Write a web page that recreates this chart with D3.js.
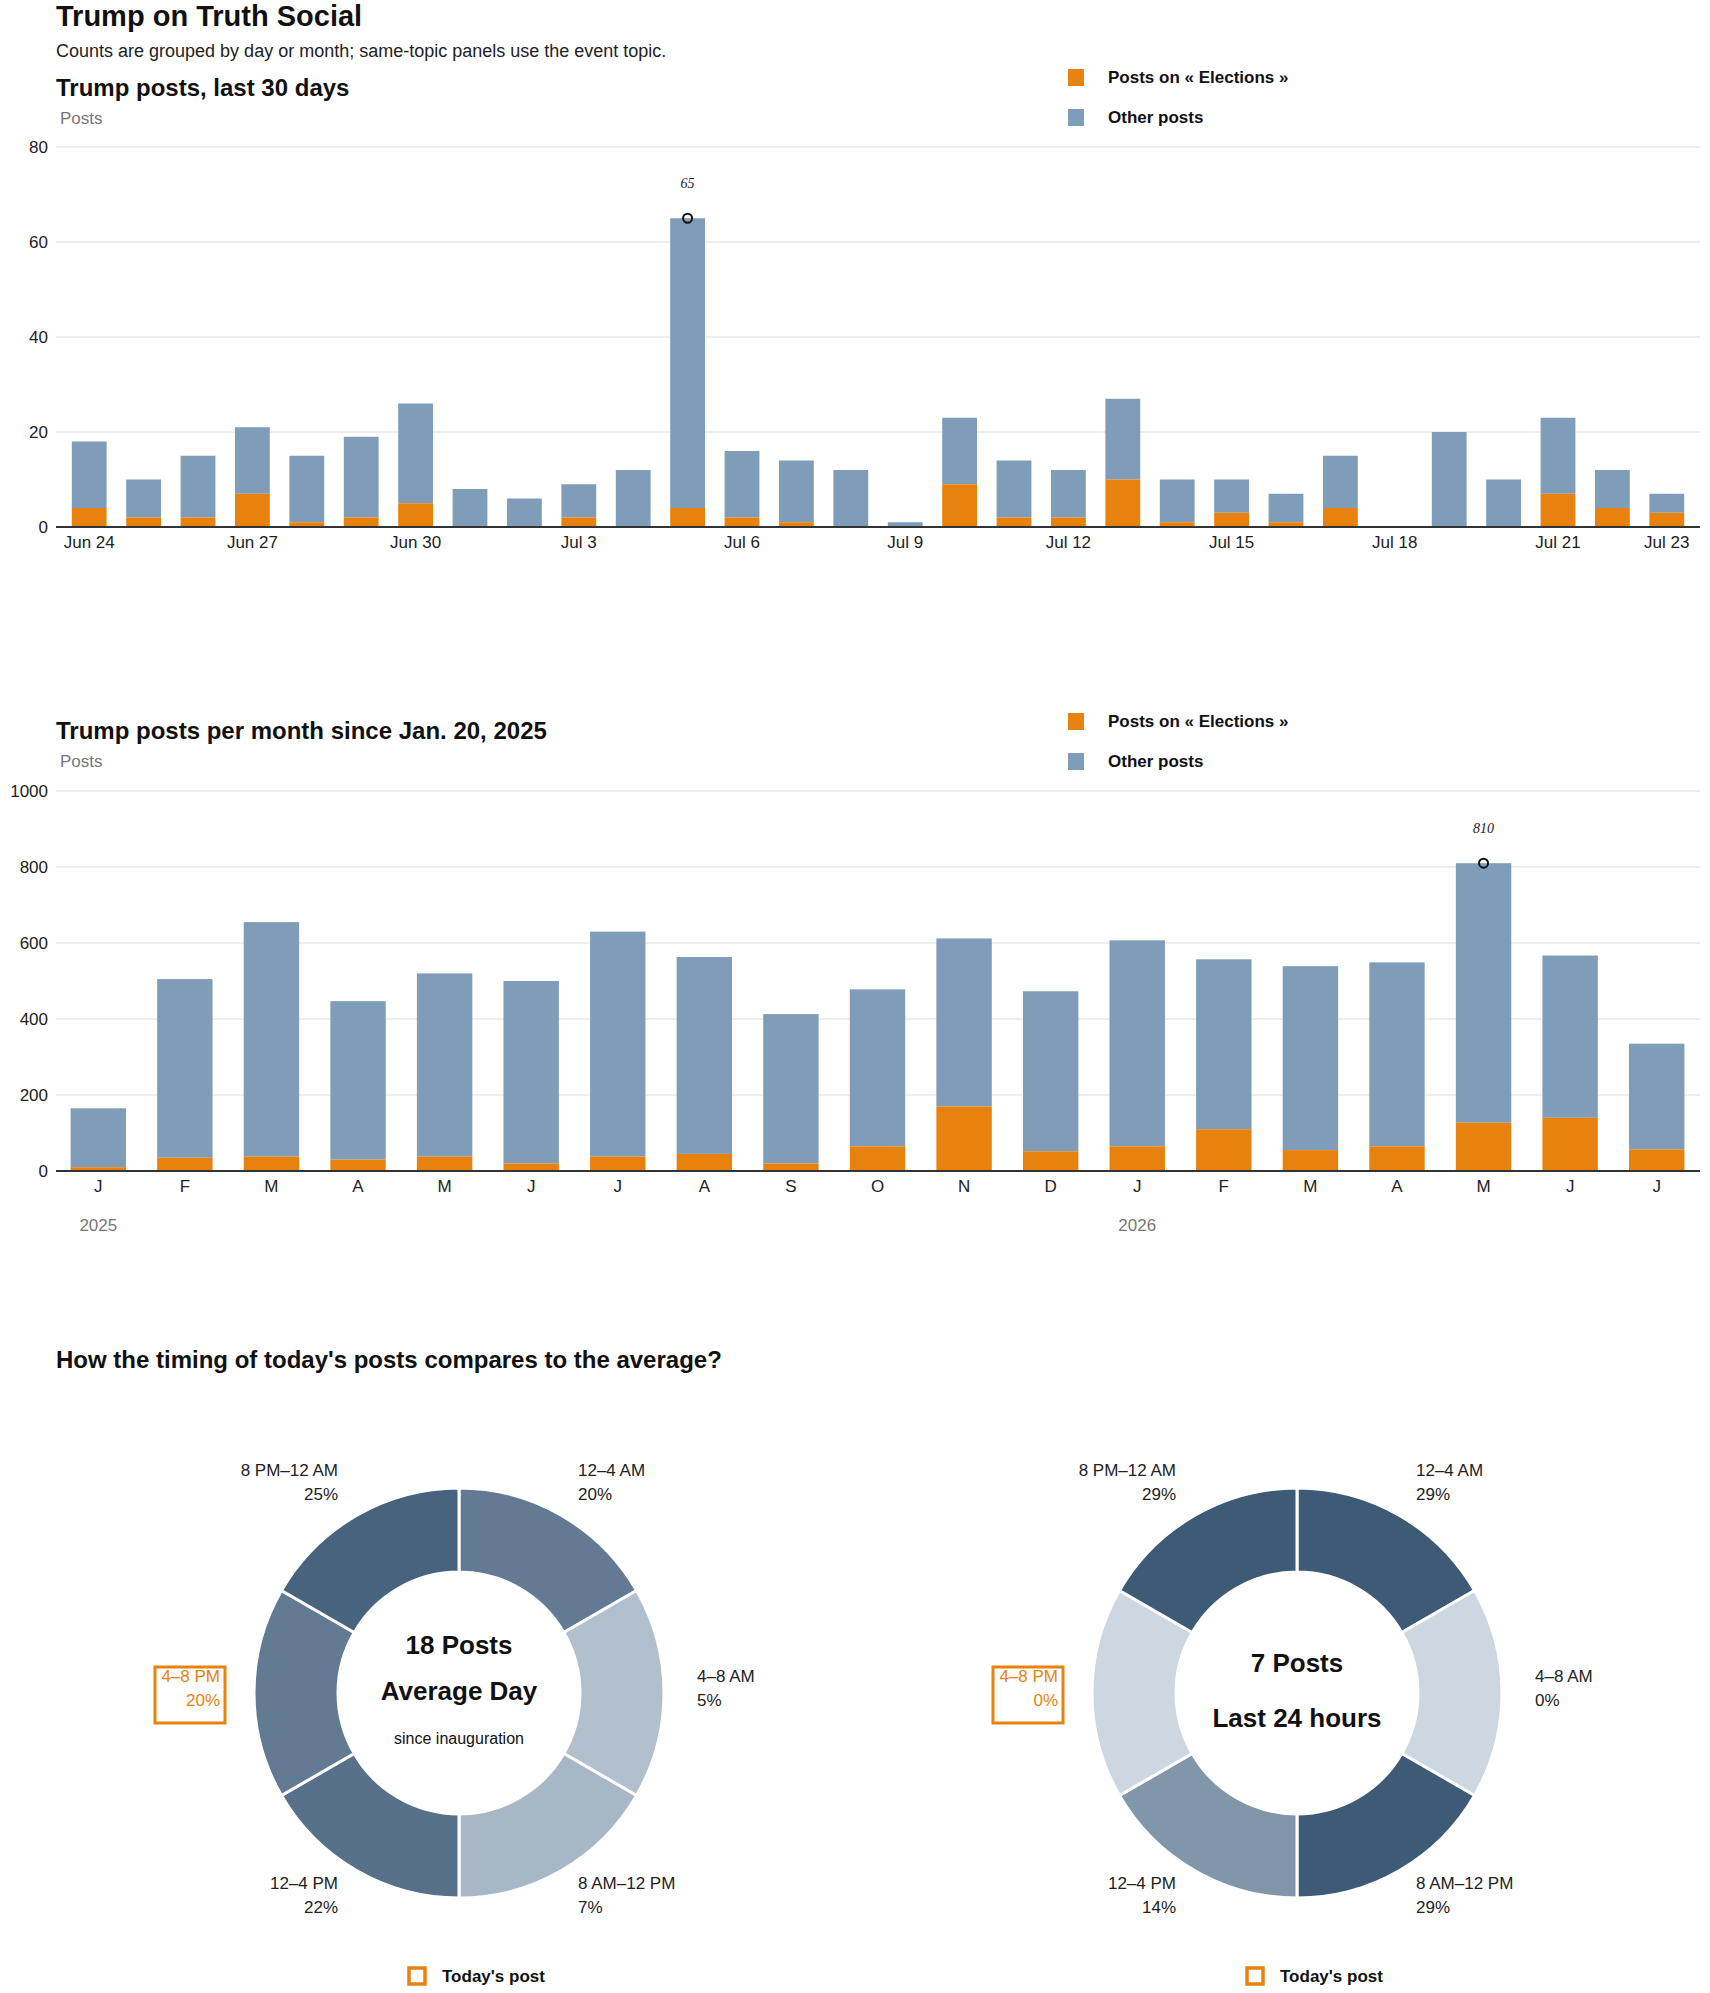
<!DOCTYPE html>
<html>
<head>
<meta charset="utf-8">
<script src="https://cdn.jsdelivr.net/npm/d3@7"></script>
<style>
  body { margin: 0; background: #fff; font-family: "Liberation Sans", Arial, sans-serif; }
  .h { font-weight: 900; fill: #111; }
</style>
</head>
<body>
<svg id="chart" width="1710" height="1993"></svg>
<script>
// daily data, last 30 days
var days = ['Jun 24','Jun 25','Jun 26','Jun 27','Jun 28','Jun 29','Jun 30','Jul 1','Jul 2','Jul 3','Jul 4','Jul 5','Jul 6','Jul 7','Jul 8','Jul 9','Jul 10','Jul 11','Jul 12','Jul 13','Jul 14','Jul 15','Jul 16','Jul 17','Jul 18','Jul 19','Jul 20','Jul 21','Jul 22','Jul 23'];
var dayTotal = [18,10,15,21,15,19,26,8,6,9,12,65,16,14,12,1,23,14,12,27,10,10,7,15,0,20,10,23,12,7];
var dayElect = [4,2,2,7,1,2,5,0,0,2,0,4,2,1,0,0,9,2,2,10,1,3,1,4,0,0,0,7,4,3];
var dayTicks = ['Jun 24','Jun 27','Jun 30','Jul 3','Jul 6','Jul 9','Jul 12','Jul 15','Jul 18','Jul 21','Jul 23'];

// monthly data since Jan 2025
var months = ['2025-01','2025-02','2025-03','2025-04','2025-05','2025-06','2025-07','2025-08','2025-09','2025-10','2025-11','2025-12','2026-01','2026-02','2026-03','2026-04','2026-05','2026-06','2026-07'];
var monthLetters = ['J','F','M','A','M','J','J','A','S','O','N','D','J','F','M','A','M','J','J'];
var monthTotal = [165,505,655,447,520,500,630,563,413,478,612,473,607,557,539,549,810,567,335];
var monthElect = [10,35,38,30,38,20,38,45,20,65,170,52,65,110,55,65,127,140,57];

// time of day shares
var slots = ['12–4 AM','4–8 AM','8 AM–12 PM','12–4 PM','4–8 PM','8 PM–12 AM'];
var avgShare = [20,5,7,22,20,25];
var todayShare = [29,0,29,14,0,29];

var ORANGE = '#e8820e', BLUE = '#7f9db9';
var svg = d3.select('#chart');

svg.append('text').attr('class','h').attr('x',56).attr('y',26).attr('font-size',29).text('Trump on Truth Social');
svg.append('text').attr('x',56).attr('y',57).attr('font-size',18).attr('fill','#222')
  .text('Counts are grouped by day or month; same-topic panels use the event topic.');

function legend(y) {
  [['Posts on « Elections »',ORANGE],['Other posts',BLUE]].forEach(function(d,i){
    svg.append('rect').attr('x',1068).attr('y',y+i*40-8).attr('width',16).attr('height',17).attr('fill',d[1]);
    svg.append('text').attr('x',1108).attr('y',y+i*40+6).attr('font-size',17).attr('font-weight',900).attr('fill','#111').text(d[0]);
  });
}

function barChart(opt) {
  var g = svg.append('g');
  g.append('text').attr('class','h').attr('x',56).attr('y',opt.titleY).attr('font-size',24).text(opt.title);
  g.append('text').attr('x',60).attr('y',opt.titleY+28).attr('font-size',17).attr('fill','#777').text('Posts');
  legend(opt.legendY);
  var y = d3.scaleLinear().domain([0,opt.max]).range([opt.y0,opt.y1]);
  var x = d3.scaleBand().domain(opt.keys).range(opt.xr).paddingInner(0.36).paddingOuter(0.18);
  y.ticks(opt.nt).forEach(function(t){
    g.append('line').attr('x1',56).attr('x2',1700).attr('y1',y(t)).attr('y2',y(t)).attr('stroke','#ddd');
    g.append('text').attr('x',48).attr('y',y(t)+6).attr('text-anchor','end').attr('font-size',17).attr('fill','#222').text(t);
  });
  g.selectAll('.o').data(opt.keys).enter().append('rect')
    .attr('x',function(d){return x(d);}).attr('width',x.bandwidth())
    .attr('y',function(d,i){return y(opt.total[i]);})
    .attr('height',function(d,i){return y(opt.elect[i])-y(opt.total[i]);})
    .attr('fill',BLUE);
  g.selectAll('.e').data(opt.keys).enter().append('rect')
    .attr('x',function(d){return x(d);}).attr('width',x.bandwidth())
    .attr('y',function(d,i){return y(opt.elect[i]);})
    .attr('height',function(d,i){return y(0)-y(opt.elect[i]);})
    .attr('fill',ORANGE);
  g.append('line').attr('x1',56).attr('x2',1700).attr('y1',y(0)).attr('y2',y(0)).attr('stroke','#333').attr('stroke-width',2);
  var mi = d3.maxIndex(opt.total), cx = x(opt.keys[mi]) + x.bandwidth()/2;
  g.append('circle').attr('cx',cx).attr('cy',y(opt.total[mi])).attr('r',4.5).attr('fill','none').attr('stroke','#111').attr('stroke-width',2);
  g.append('text').attr('x',cx).attr('y',y(opt.total[mi])-30).attr('text-anchor','middle').attr('font-size',14)
    .attr('font-style','italic').attr('font-family','Liberation Serif, serif').attr('fill','#222').text(opt.total[mi]);
  opt.labels(g, x);
}

barChart({title:'Trump posts, last 30 days', titleY:96, legendY:77, max:80, nt:4, y0:527, y1:147,
  keys:days, total:dayTotal, elect:dayElect, xr:[62,1694],
  labels:function(g,x){
    dayTicks.forEach(function(d){
      g.append('text').attr('x',x(d)+x.bandwidth()/2).attr('y',548).attr('text-anchor','middle').attr('font-size',17).attr('fill','#222').text(d);
    });
  }});

barChart({title:'Trump posts per month since Jan. 20, 2025', titleY:739, legendY:721, max:1000, nt:5, y0:1171, y1:791,
  keys:months, total:monthTotal, elect:monthElect, xr:[55,1700],
  labels:function(g,x){
    months.forEach(function(d,i){
      var cx = x(d)+x.bandwidth()/2;
      g.append('text').attr('x',cx).attr('y',1192).attr('text-anchor','middle').attr('font-size',17).attr('fill','#222').text(monthLetters[i]);
      if (d.slice(5) === '01')
        g.append('text').attr('x',cx).attr('y',1231).attr('text-anchor','middle').attr('font-size',17).attr('fill','#777').text(d.slice(0,4));
    });
  }});

svg.append('text').attr('class','h').attr('x',56).attr('y',1368).attr('font-size',24).text("How the timing of today's posts compares to the average?");

var color = d3.scaleLinear().domain([0,27]).range(['#cdd7e1','#3d5a76']).clamp(true);
var pie = d3.pie().value(1).sort(null);
var arc = d3.arc().innerRadius(121).outerRadius(205);

function donut(cx, shares, lines) {
  var g = svg.append('g').attr('transform','translate('+cx+',1693)');
  g.selectAll('path').data(pie(shares)).enter().append('path')
    .attr('d',arc).attr('fill',function(d){return color(d.data);}).attr('stroke','#fff').attr('stroke-width',3);
  // labels
  var pos = [[119,-217,'start'],[238,-11,'start'],[119,196,'start'],[-121,196,'end'],[-239,-11,'end'],[-121,-217,'end']];
  slots.forEach(function(s,i){
    var p = pos[i], col = i === 4 ? ORANGE : '#222';
    var t = g.append('text').attr('x',p[0]).attr('y',p[1]).attr('text-anchor',p[2]).attr('font-size',17).attr('fill',col);
    t.append('tspan').attr('x',p[0]).text(s);
    t.append('tspan').attr('x',p[0]).attr('dy',24).text(shares[i] + '%');
    if (i === 4) g.append('rect').attr('x',-304).attr('y',-26).attr('width',70).attr('height',56)
      .attr('fill','none').attr('stroke',ORANGE).attr('stroke-width',3);
  });
  lines.forEach(function(l){
    g.append('text').attr('y',l[0]).attr('text-anchor','middle').attr('font-size',l[1])
      .attr('font-weight',l[2]).attr('fill','#111').text(l[3]);
  });
  g.append('rect').attr('x',-50).attr('y',275).attr('width',16).attr('height',16).attr('fill','none').attr('stroke',ORANGE).attr('stroke-width',3.5);
  g.append('text').attr('x',-17).attr('y',289).attr('font-size',17).attr('font-weight',900).attr('fill','#111').text("Today's post");
}

donut(459, avgShare, [[-39,26,900,'18 Posts'],[7,26,900,'Average Day'],[51,16,400,'since inauguration']]);
donut(1297, todayShare, [[-21,26,900,'7 Posts'],[34,26,900,'Last 24 hours']]);
</script>
</body>
</html>
